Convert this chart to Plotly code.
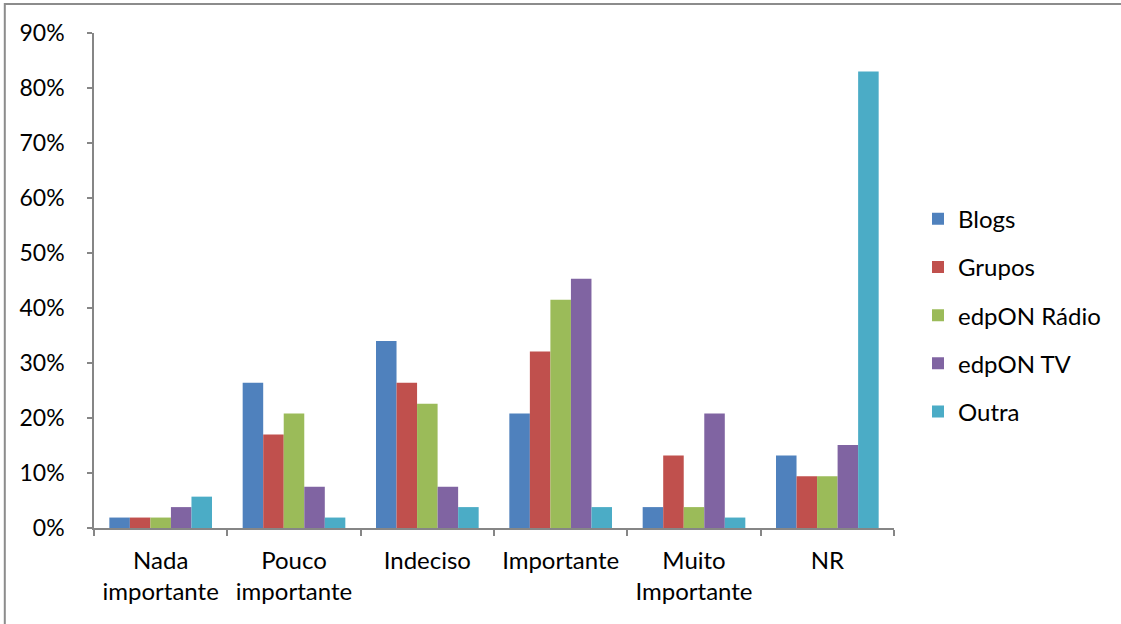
import plotly.graph_objects as go

# Survey answers: share of respondents per importance level, by channel
categories = ["Nada<br>importante", "Pouco<br>importante", "Indeciso",
              "Importante", "Muito<br>Importante", "NR"]
blogs = [0.019, 0.264, 0.340, 0.208, 0.038, 0.132]
grupos = [0.019, 0.170, 0.264, 0.321, 0.132, 0.094]
radio = [0.019, 0.208, 0.226, 0.415, 0.038, 0.094]
tv = [0.038, 0.075, 0.075, 0.453, 0.208, 0.151]
outra = [0.057, 0.019, 0.038, 0.038, 0.019, 0.830]

series = [
    ("Blogs", blogs, "#4F81BD"),
    ("Grupos", grupos, "#C0504D"),
    ("edpON Rádio", radio, "#9BBB59"),
    ("edpON TV", tv, "#8064A2"),
    ("Outra", outra, "#4BACC6"),
]

FONT = "Lato"
fig = go.Figure()
for name, vals, color in series:
    fig.add_trace(go.Bar(
        x=categories, y=vals, name=name, legendgroup=name,
        marker=dict(color=color, line=dict(width=0)),
    ))

axis_color = "#868686"
fig.update_layout(
    width=1121, height=624,
    margin=dict(l=94, r=227, t=33, b=96),
    paper_bgcolor="white", plot_bgcolor="white",
    barmode="group", bargap=0.23, bargroupgap=0,
    font=dict(family=FONT, size=23, color="black"),
    showlegend=True,
    legend=dict(x=(918 - 94) / 800, y=0.43, xanchor="left", yanchor="middle",
                tracegroupgap=14, font=dict(size=24, family=FONT),
                itemwidth=30),
    xaxis=dict(showline=True, linecolor=axis_color, linewidth=1.5,
               ticks="outside", tickson="boundaries", ticklen=6,
               tickcolor=axis_color, tickwidth=1.5, showgrid=False,
               tickfont=dict(size=24), ticklabelstandoff=10),
    yaxis=dict(range=[0, 0.9], dtick=0.1, tickformat=".0%",
               showline=True, linecolor=axis_color, linewidth=1.5,
               ticks="outside", ticklen=5, tickcolor=axis_color,
               tickwidth=1.5, showgrid=False, zeroline=False,
               ticklabelstandoff=18),
    shapes=[dict(type="rect", xref="paper", yref="paper",
                 x0=-0.1115, x1=1.40, y0=-0.40, y1=1.0588,
                 line=dict(color="#8c8c8c", width=2))],
)

fig.write_html("out.html")
